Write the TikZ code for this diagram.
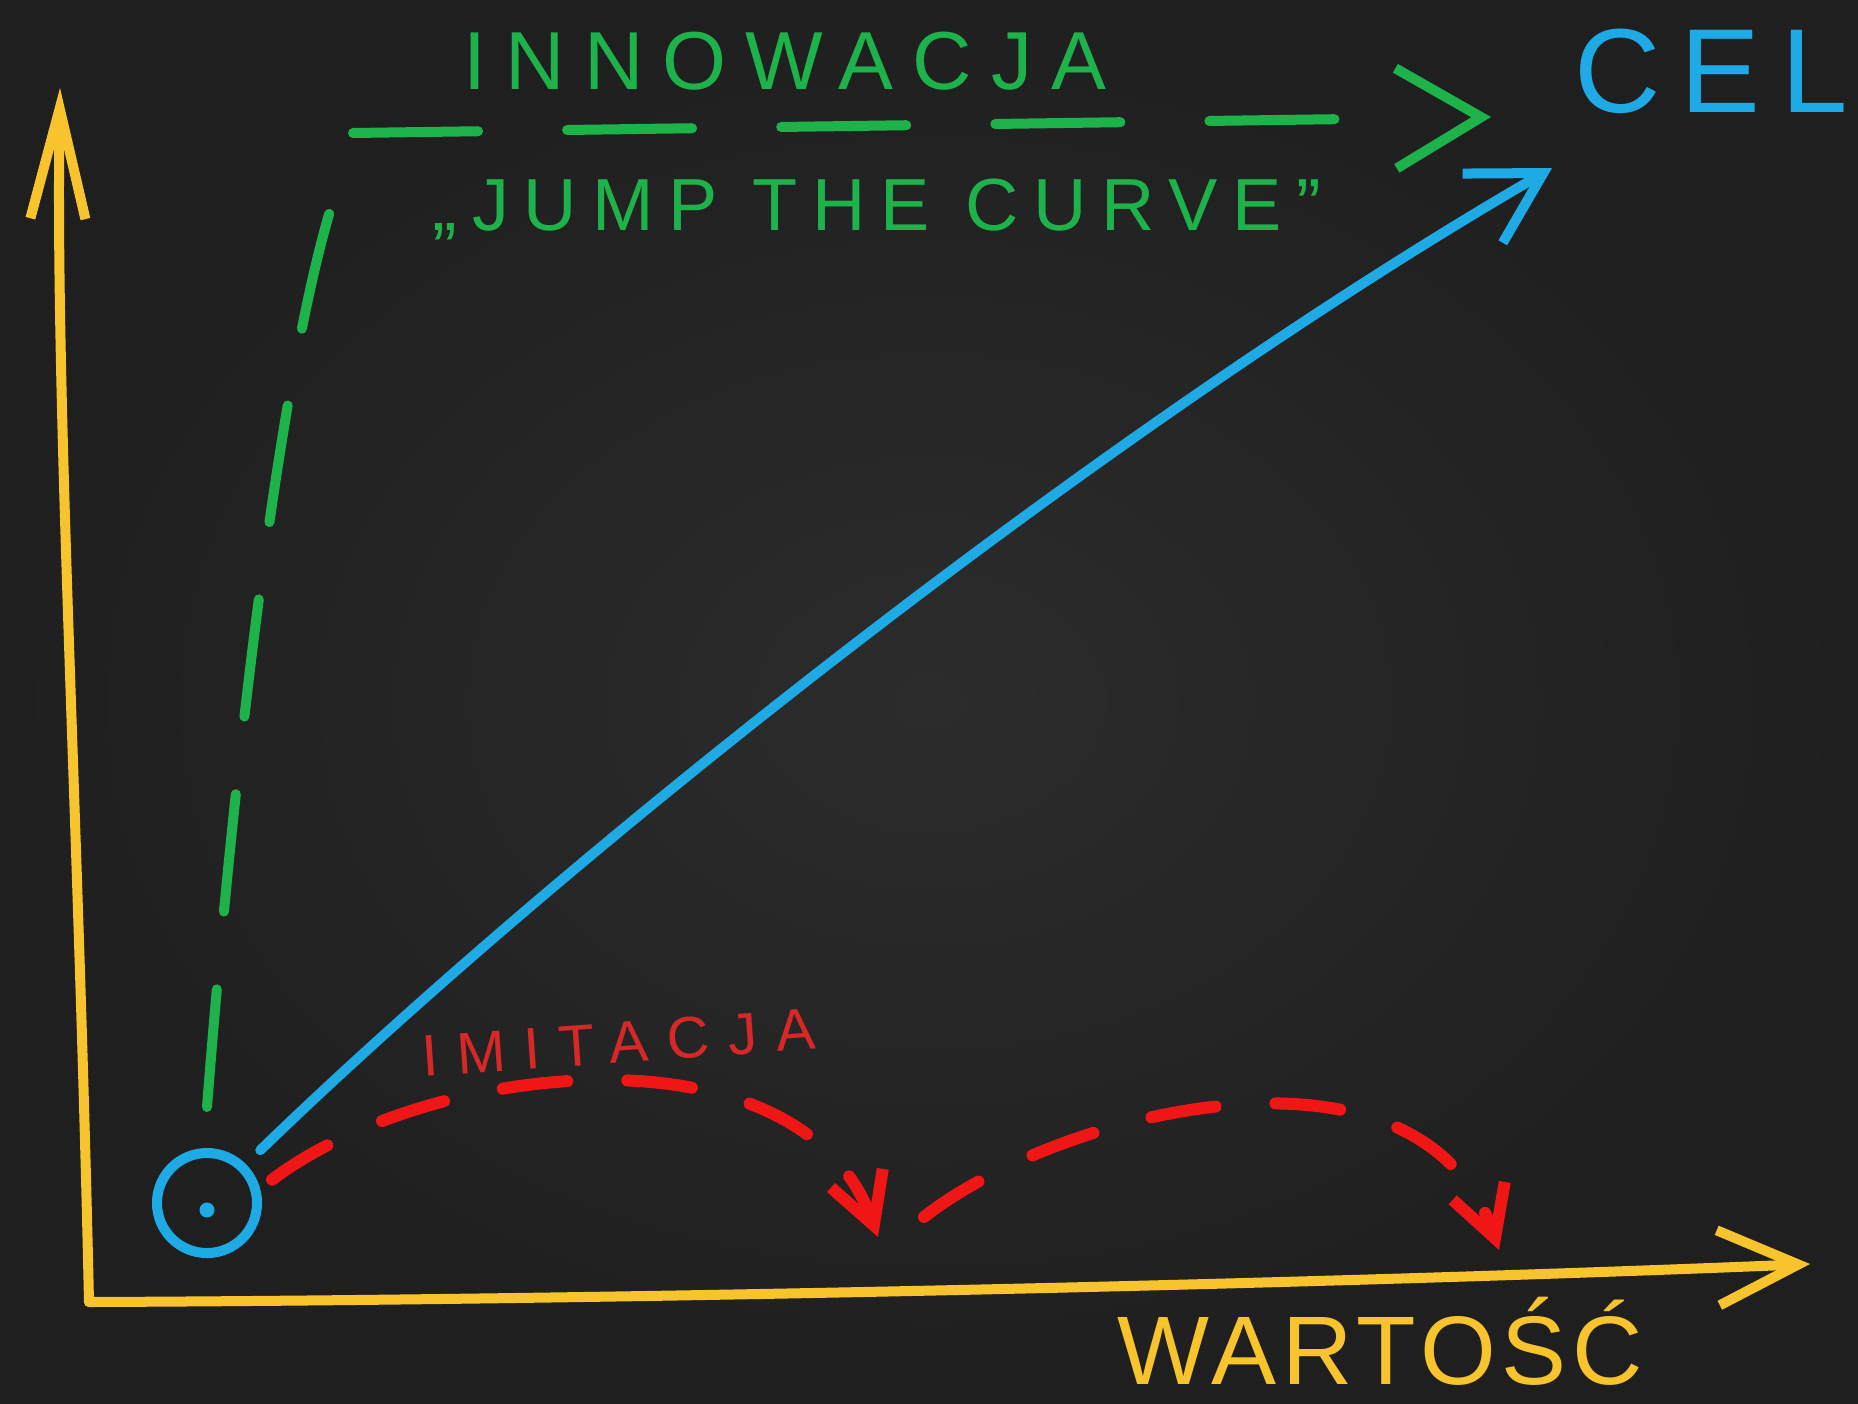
\documentclass[tikz,border=0pt]{standalone}
\usepackage{fontspec}
\setmainfont{Liberation Sans}
\usetikzlibrary{arrows.meta}
\definecolor{boardin}{RGB}{44,44,44}
\definecolor{boardout}{RGB}{31,31,31}
\definecolor{cyellow}{RGB}{247,196,45}
\definecolor{cgreen}{RGB}{30,178,75}
\definecolor{cblue}{RGB}{30,170,228}
\definecolor{cred}{RGB}{240,22,22}
\definecolor{cdarkred}{RGB}{215,40,40}

\begin{document}
\begin{tikzpicture}[x=0.01cm,y=-0.01cm,line cap=round,line join=round,
    axis/.style={cyellow,line width=0.1cm},
    jump/.style={cgreen,line width=0.1cm},
    goalline/.style={cblue,line width=0.1cm},
    copyline/.style={cred,line width=0.12cm,dash pattern=on 0.65cm off 0.6cm,
        -{Straight Barb[length=0.5cm,width=0.55cm]}}]
                \shade[inner color=boardin,outer color=boardout] (0,0) rectangle (1858,1403);
                \useasboundingbox (0,0) rectangle (1858,1403);

                \coordinate (O) at (89,1302);
                \coordinate (Ytip) at (60,88);
                \coordinate (Xtip) at (1810,1264);
                \draw[axis,-{Straight Barb[length=1.1cm,width=0.55cm]}] (O) .. controls (78,800) and (55,400) .. (Ytip);
                \draw[axis,-{Straight Barb[length=0.8cm,width=0.75cm]}] (O) .. controls (600,1300) and (1300,1285) .. (Xtip);

                \node[circle,draw=cblue,line width=0.1cm,minimum size=1cm,inner sep=0] (start) at (207,1203) {};
                \node[circle,fill=cblue,inner sep=0,minimum size=0.15cm] (dot) at (207,1210) {};

                \coordinate (G1) at (207,1107);
                \coordinate (G2) at (330,211);
                \draw[jump,dash pattern=on 1.18cm off 0.78cm] (G1) .. controls (235,750) and (280,380) .. (G2);
                \coordinate (H1) at (353,133);
                \coordinate (H2) at (1491,117);
                \draw[jump,dash pattern=on 1.25cm off 0.89cm on 1.25cm off 0.89cm on 1.25cm off 0.89cm on 1.25cm off 0.89cm on 1.25cm off 4cm,
                    -{Straight Barb[length=0.85cm,width=1.0cm]}] (H1) -- (H2);

                \coordinate (goal) at (1552,168);
                \draw[goalline,shorten <=0.2cm,-{Straight Barb[length=0.7cm,width=0.8cm]}] (start.45) .. controls (560,860) and (1100,430) .. (goal);

                \coordinate (R1) at (878,1237);
                \coordinate (R2) at (924,1217);
                \coordinate (R3) at (1499,1250);
                \draw[copyline,shorten <=0.15cm] (start.15) .. controls (430,1060) and (800,1020) .. (R1);
                \draw[copyline] (R2) .. controls (1060,1110) and (1420,1020) .. (R3);

                \node[anchor=base,text=cgreen,font={\fontsize{23.4}{28}\selectfont\addfontfeatures{LetterSpace=23}}] (innow) at (785,89) {INNOWACJA};
                \node[anchor=base,text=cgreen,font={\fontsize{21}{25}\selectfont\addfontfeatures{LetterSpace=20}}] (jumptext) at (877,230) {„JUMP THE CURVE”};
                \node[anchor=base,text=cblue,font={\fontsize{34}{40}\selectfont\addfontfeatures{LetterSpace=17}}] (cel) at (1711,112) {CEL};
                \node[anchor=base,text=cdarkred,rotate=4,font={\fontsize{16.7}{20}\selectfont\addfontfeatures{LetterSpace=32}}] (imit) at (620,1063) {IMITACJA};
                \node[anchor=base,text=cyellow,font={\fontsize{27.7}{33}\selectfont\addfontfeatures{LetterSpace=6}}] (wart) at (1380,1384) {WARTOŚĆ};
            \end{tikzpicture}
\end{document}
